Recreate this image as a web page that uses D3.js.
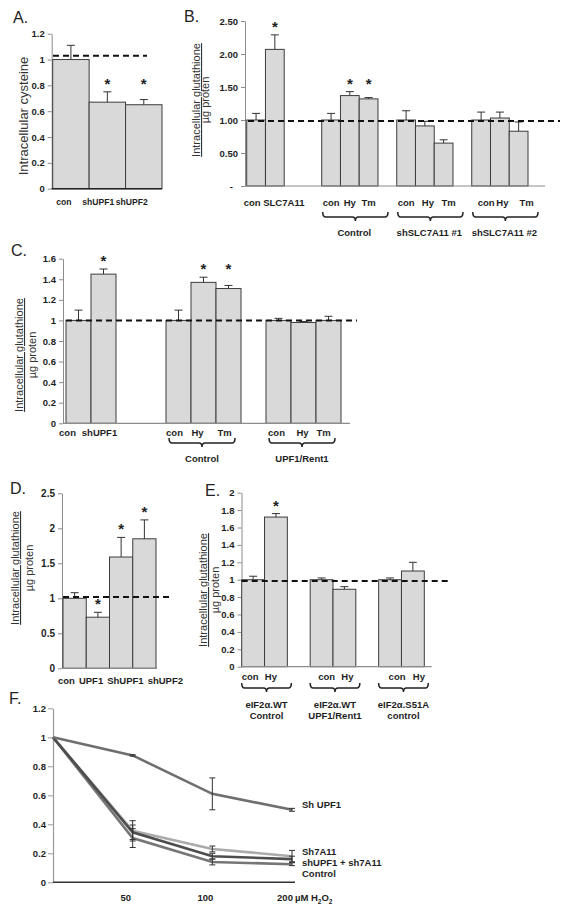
<!DOCTYPE html>
<html><head><meta charset="utf-8">
<script src="https://cdn.jsdelivr.net/npm/d3@7"></script>
<style>
body{margin:0;background:#fff;}
svg{display:block;font-family:"Liberation Sans",Arial,sans-serif;}
</style></head><body>
<svg id="c" width="565" height="912"></svg>
<script>
// ---------------- DATA ----------------
// Panel A
const aCategories = ["con","shUPF1","shUPF2"];
const aValues = [1.00,0.67,0.65];
const aErrors = [0.11,0.08,0.04];
const aSignificant = [false,true,true];
const aTicks = [0,0.2,0.4,0.6,0.8,1,1.2];
const aTickLabels = ["0","0.2","0.4","0.6","0.8","1","1.2"];
const aReference = 1.03;

// Panel B
const bCategories = ["con","SLC7A11","","","con","Hy","Tm","","con","Hy","Tm","","con","Hy","Tm"];
const bValues = [1.00,2.07,null,null,1.00,1.37,1.32,null,1.00,0.91,0.65,null,1.00,1.03,0.83];
const bErrors = [0.10,0.22,null,null,0.10,0.06,0.02,null,0.14,0.07,0.05,null,0.12,0.09,0.14];
const bSignificant = [false,true,false,false,false,true,true,false,false,false,false,false,false,false,false];
const bTicks = [0,0.5,1,1.5,2,2.5];
const bTickLabels = ["-","0.50","1.00","1.50","2.00","2.50"];
const bGroups = [["Control"],["shSLC7A11 #1"],["shSLC7A11 #2"]];
const bGroupSlots = [[4,6],[8,10],[12,14]];
const bReference = 0.985;

// Panel C
const cCategories = ["con","shUPF1","","","con","Hy","Tm","","con","Hy","Tm"];
const cValues = [1.00,1.45,null,null,1.00,1.37,1.31,null,1.00,0.98,1.00];
const cErrors = [0.10,0.05,null,null,0.10,0.05,0.03,null,0.02,0.01,0.04];
const cSignificant = [false,true,false,false,false,true,true,false,false,false,false];
const cTicks = [0,0.2,0.4,0.6,0.8,1,1.2,1.4,1.6];
const cTickLabels = ["0","0.2","0.4","0.6","0.8","1","1.2","1.4","1.6"];
const cGroups = [["Control"],["UPF1/Rent1"]];
const cGroupSlots = [[4,6],[8,10]];
const cReference = 1.0;

// Panel D
const dCategories = ["con","UPF1","ShUPF1","shUPF2"];
const dValues = [1.00,0.73,1.59,1.85];
const dErrors = [0.08,0.07,0.28,0.27];
const dSignificant = [false,true,true,true];
const dTicks = [0,0.5,1,1.5,2,2.5];
const dTickLabels = ["0","0.5","1","1.5","2","2.5"];
const dReference = 1.02;

// Panel E
const eCategories = ["con","Hy","","con","Hy","","con","Hy"];
const eValues = [1.00,1.72,null,1.00,0.89,null,1.00,1.10];
const eErrors = [0.04,0.04,null,0.02,0.03,null,0.02,0.10];
const eSignificant = [false,true,false,false,false,false,false,false];
const eTicks = [0,0.2,0.4,0.6,0.8,1,1.2,1.4,1.6,1.8,2];
const eTickLabels = ["0","0.2","0.4","0.6","0.8","1","1.2","1.4","1.6","1.8","2"];
const eGroups = [["eIF2\u03b1.WT","Control"],["eIF2\u03b1.WT","UPF1/Rent1"],["eIF2\u03b1.S51A","control"]];
const eGroupSlots = [[0,1],[3,4],[6,7]];
const eReference = 0.985;

// Panel F
const fDoses = ["","50","100","200"];
const fSeriesNames = ["Sh UPF1","Sh7A11","shUPF1 + sh7A11","Control"];
const fShUPF1 = [1,0.875,0.61,0.50];
const fShUPF1Err = [0,0.005,0.11,0.01];
const fSh7A11 = [1,0.355,0.23,0.18];
const fSh7A11Err = [0,0.07,0.02,0.04];
const fBoth = [1,0.345,0.18,0.16];
const fBothErr = [0,0.05,0.02,0.02];
const fControl = [1,0.305,0.14,0.125];
const fControlErr = [0,0.065,0.02,0.01];
const fTicks = [0,0.2,0.4,0.6,0.8,1,1.2];
const fTickLabels = ["0","0.2","0.4","0.6","0.8","1","1.2"];

// ---------------- DRAW ----------------
const FONT = "Liberation Sans, Arial, sans-serif";
const svg = d3.select("#c");

function letter(t, x, y){
  svg.append("text").attr("x",x).attr("y",y).attr("font-size",16).attr("fill","#222").text(t);
}

function drawBarPanel(p){
  const n = p.cats.length;
  const x = d3.scaleBand().domain(d3.range(n)).range(p.xRange).padding(0);
  const bw = x.bandwidth();
  const y = d3.scaleLinear().domain([0,p.ymax]).range([p.yBottom,p.yTop]);
  const g = svg.append("g");
  const lf = p.labelFont||9.5;

  // y axis
  const axis = d3.axisLeft(y).tickValues(p.ticks).tickFormat((d,i)=>p.tickLabels[i])
    .tickSizeInner(p.tickLen||4).tickSizeOuter(0).tickPadding(p.tickPad||3);
  const ya = g.append("g").attr("transform",`translate(${p.axisX},0)`).call(axis)
    .attr("font-family",FONT).attr("font-size",p.tickFont||9.5);
  ya.select(".domain").attr("stroke","#8c8c8c");
  ya.selectAll(".tick line").attr("stroke","#8c8c8c");
  ya.selectAll(".tick text").attr("font-weight","bold").attr("fill","#1e1e1e");
  if (p.zeroDx) ya.selectAll(".tick text").filter(d=>d===0).attr("dx",p.zeroDx);

  const idx = d3.range(n).filter(i=>p.vals[i]!=null);
  // bars
  g.selectAll("rect.bar").data(idx).join("rect").attr("class","bar")
    .attr("x",i=>x(i)).attr("y",i=>y(p.vals[i]))
    .attr("width",bw).attr("height",i=>y(0)-y(p.vals[i]))
    .attr("fill","#d9d9d9").attr("stroke","#3c3c3c").attr("stroke-width",1);
  // error bars
  const eg = g.append("g").attr("stroke","#333").attr("stroke-width",1);
  idx.forEach(i=>{
    const cx = x(i)+bw/2, yt = y(p.vals[i]+p.errs[i]), yb = y(p.vals[i]);
    eg.append("line").attr("x1",cx).attr("x2",cx).attr("y1",yb).attr("y2",yt);
    eg.append("line").attr("x1",cx-4).attr("x2",cx+4).attr("y1",yt).attr("y2",yt);
  });
  // x axis line
  g.append("line").attr("x1",p.axisX).attr("x2",p.axisEnd).attr("y1",y(0)).attr("y2",y(0))
    .attr("stroke",p.xAxisColor||"#8c8c8c").attr("stroke-width",p.xAxisWidth||1.2);
  // reference dashed line
  g.append("line").attr("x1",p.refX[0]).attr("x2",p.refX[1]).attr("y1",y(p.ref)).attr("y2",y(p.ref))
    .attr("stroke","#111").attr("stroke-width",2).attr("stroke-dasharray","6,4");
  // asterisks
  const sigIdx = idx.filter(i=>p.sig[i]);
  const capY = i=>y(p.vals[i]+p.errs[i]);
  sigIdx.forEach(i=>{
    let cy = capY(i);
    if (p.alignStars){
      let j=i; while(p.sig[j-1]) j--;
      let k=i; while(p.sig[k+1]) k++;
      cy = d3.min(d3.range(j,k+1),capY);
    }
    g.append("text").attr("x",x(i)+bw/2).attr("y",cy-10+7).attr("text-anchor","middle")
      .attr("font-size",15).attr("font-weight","bold").attr("fill","#222").text("*");
  });
  // category labels
  if (p.sequentialLabels){
    let cur = p.sequentialLabels.start;
    idx.forEach(i=>{
      const t = g.append("text").attr("x",cur).attr("y",p.labelY).attr("font-size",lf)
        .attr("font-weight","bold").attr("fill","#1e1e1e").text(p.cats[i]);
      cur += t.node().getComputedTextLength() + p.sequentialLabels.gap;
    });
  } else {
    idx.forEach(i=>{
      g.append("text").attr("x",x(i)+bw/2+(p.labelDx||0)+((p.labelShift&&p.labelShift[i])||0))
        .attr("y",p.labelY).attr("text-anchor","middle").attr("font-size",lf)
        .attr("font-weight","bold").attr("fill","#1e1e1e").text(p.cats[i]);
    });
  }
  // braces + group labels
  if (p.groups){
    p.groupSlots.forEach((s,gi)=>{
      const x1 = x(s[0])+p.braceDx[0], x2 = x(s[1])+bw+p.braceDx[1], xc=(x1+x2)/2;
      const yt = p.braceY, yh = p.braceY+5;
      g.append("path").attr("d",
        `M${x1},${yt} Q${x1},${yh} ${x1+3},${yh} L${xc-3},${yh} Q${xc},${yh} ${xc},${yh+4} Q${xc},${yh} ${xc+3},${yh} L${x2-3},${yh} Q${x2},${yh} ${x2},${yt}`)
        .attr("fill","none").attr("stroke","#222").attr("stroke-width",1.5);
      p.groups[gi].forEach((line,li)=>{
        g.append("text").attr("x",xc+(p.groupDx||0)).attr("y",p.groupY+li*p.groupLH)
          .attr("text-anchor","middle").attr("font-size",9.5).attr("font-weight","bold")
          .attr("fill","#1e1e1e").text(line);
      });
    });
  }
  // y label
  if (p.ylabel){
    g.append("text").attr("transform",`translate(${p.ylabel.x1},${p.ylabel.cy}) rotate(-90)`)
      .attr("text-anchor","middle").attr("font-size",p.ylabel.size||11).attr("fill","#333")
      .attr("text-decoration",p.ylabel.under?"underline":null).text(p.ylabel.t1);
    if (p.ylabel.t2) g.append("text").attr("transform",`translate(${p.ylabel.x2},${p.ylabel.cy}) rotate(-90)`)
      .attr("text-anchor","middle").attr("font-size",p.ylabel.size||11).attr("fill","#333").text(p.ylabel.t2);
  }
}

// A
letter("A.",13,23);
drawBarPanel({cats:aCategories,vals:aValues,errs:aErrors,sig:aSignificant,ticks:aTicks,tickLabels:aTickLabels,
  ymax:1.2,yBottom:188.7,yTop:33.7,xRange:[52.7,162],axisX:51.7,axisEnd:162,
  xAxisColor:"#222",xAxisWidth:1.6,ref:aReference,refX:[53,147],alignStars:true,
  labelY:205,labelFont:8.6,labelShift:{0:-7,1:-9,2:-12},
  ylabel:{t1:"Intracellular cysteine",x1:28,cy:116,size:13}});

// B
letter("B.",184,22);
drawBarPanel({cats:bCategories,vals:bValues,errs:bErrors,sig:bSignificant,ticks:bTicks,tickLabels:bTickLabels,
  ymax:2.5,yBottom:186,yTop:21,xRange:[246.7,528],axisX:245,axisEnd:545,zeroDx:-5,
  ref:bReference,refX:[248,560],alignStars:true,
  labelY:205.5,labelShift:{0:-4,1:9,9:3,10:5,12:5,13:2.5,14:8},
  groups:bGroups,groupSlots:bGroupSlots,braceDx:[1,10],braceY:212,groupY:236,groupLH:12,groupDx:-1,
  ylabel:{t1:"Intracellular  glutathione",t2:"\u00b5g proten",x1:200,x2:209,cy:100,under:true}});

// C
letter("C.",11,256);
drawBarPanel({cats:cCategories,vals:cValues,errs:cErrors,sig:cSignificant,ticks:cTicks,tickLabels:cTickLabels,
  ymax:1.6,yBottom:423.3,yTop:258.7,xRange:[66,341],axisX:63,axisEnd:350,
  ref:cReference,refX:[66,357],alignStars:true,
  labelY:435.5,labelShift:{0:-11,1:-4,4:-4,5:-6,6:-4,8:-2,9:-1,10:-5},
  groups:cGroups,groupSlots:cGroupSlots,braceDx:[3,-6],braceY:438,groupY:461.5,groupLH:12,
  ylabel:{t1:"Intracellular  glutathione",t2:"\u00b5g proten",x1:23,x2:36,cy:355,under:true}});

// D
letter("D.",10,494);
drawBarPanel({cats:dCategories,vals:dValues,errs:dErrors,sig:dSignificant,ticks:dTicks,tickLabels:dTickLabels,
  ymax:2.5,yBottom:668.3,yTop:493.3,xRange:[63,156],axisX:62,axisEnd:157,tickFont:10,
  ref:dReference,refX:[63,173],alignStars:false,
  labelY:684,sequentialLabels:{start:58,gap:4},
  ylabel:{t1:"Intracellular  glutathione",t2:"\u00b5g proten",x1:19,x2:33,cy:568,under:true}});

// E
letter("E.",205,496);
drawBarPanel({cats:eCategories,vals:eValues,errs:eErrors,sig:eSignificant,ticks:eTicks,tickLabels:eTickLabels,
  ymax:2,yBottom:666.7,yTop:492.7,xRange:[241.7,424.3],axisX:241.5,axisEnd:431.7,
  ref:eReference,refX:[241.7,451.7],alignStars:false,
  labelY:680,labelShift:{0:-3,1:-5,3:5,4:3,6:7,7:6},
  groups:eGroups,groupSlots:eGroupSlots,braceDx:[0,4],braceY:683,groupY:707.5,groupLH:11.5,
  ylabel:{t1:"Intracellular  glutathione",t2:"\u00b5g proten",x1:207,x2:219,cy:590,under:true}});

// F
letter("F.",9,704);
(function(){
  const series = [
    {name:fSeriesNames[0],vals:fShUPF1,errs:fShUPF1Err,color:"#6f6f6f"},
    {name:fSeriesNames[1],vals:fSh7A11,errs:fSh7A11Err,color:"#ababab"},
    {name:fSeriesNames[2],vals:fBoth,errs:fBothErr,color:"#4d4d4d"},
    {name:fSeriesNames[3],vals:fControl,errs:fControlErr,color:"#767676"}
  ];
  const x = d3.scalePoint().domain(d3.range(fDoses.length)).range([53,292]);
  const y = d3.scaleLinear().domain([0,1.2]).range([882.3,708.3]);
  const g = svg.append("g");
  const axis = d3.axisLeft(y).tickValues(fTicks).tickFormat((d,i)=>fTickLabels[i]).tickSizeInner(5).tickSizeOuter(0).tickPadding(2);
  const ya = g.append("g").attr("transform","translate(53,0)").call(axis).attr("font-family",FONT).attr("font-size",9.5);
  ya.select(".domain").attr("stroke","#9a9a9a").attr("stroke-width",1.2);
  ya.selectAll(".tick line").attr("stroke","#9a9a9a");
  ya.selectAll(".tick text").attr("font-weight","bold").attr("fill","#1e1e1e");
  g.append("line").attr("x1",53).attr("x2",295).attr("y1",y(0)).attr("y2",y(0)).attr("stroke","#333").attr("stroke-width",1.5);

  const line = d3.line().x((d,i)=>x(i)).y(d=>y(d));
  [1,3,2,0].forEach(si=>{
    const s = series[si];
    g.append("path").attr("d",line(s.vals)).attr("fill","none").attr("stroke",s.color).attr("stroke-width",2.6);
  });
  const eg = g.append("g").attr("stroke","#333").attr("stroke-width",1);
  series.forEach(s=>{
    s.vals.forEach((v,i)=>{
      if (!s.errs[i]) return;
      const cx = x(i), y1 = y(v+s.errs[i]), y2 = y(v-s.errs[i]);
      eg.append("line").attr("x1",cx).attr("x2",cx).attr("y1",y1).attr("y2",y2);
      eg.append("line").attr("x1",cx-3).attr("x2",cx+3).attr("y1",y1).attr("y2",y1);
      eg.append("line").attr("x1",cx-3).attr("x2",cx+3).attr("y1",y2).attr("y2",y2);
    });
  });
  const last = fDoses.length-1;
  const order = series.map((s,i)=>({s,yy:y(s.vals[last])})).sort((a,b)=>a.yy-b.yy);
  let prev = -1e9;
  order.forEach(o=>{
    const cy = Math.max(o.yy-5, prev+11);
    prev = cy;
    g.append("text").attr("x",302).attr("y",cy+3.5).attr("font-size",9.5).attr("font-weight","bold")
      .attr("fill","#1e1e1e").text(o.s.name);
  });
  fDoses.forEach((d,i)=>{
    if (!d) return;
    const t = g.append("text").attr("x",x(i)-7).attr("y",901).attr("text-anchor","middle")
      .attr("font-size",9.5).attr("font-weight","bold").attr("fill","#1e1e1e").text(d);
    if (i===last){
      const w = t.node().getComputedTextLength();
      const u = g.append("text").attr("x",x(i)-7+w/2+2).attr("y",901).attr("font-size",9.5)
        .attr("font-weight","bold").attr("fill","#1e1e1e");
      u.append("tspan").text("\u00b5M H");
      u.append("tspan").attr("font-size",6.5).attr("dy",2.5).text("2");
      u.append("tspan").attr("dy",-2.5).text("O");
      u.append("tspan").attr("font-size",6.5).attr("dy",2.5).text("2");
    }
  });
})();
</script>
</body></html>
